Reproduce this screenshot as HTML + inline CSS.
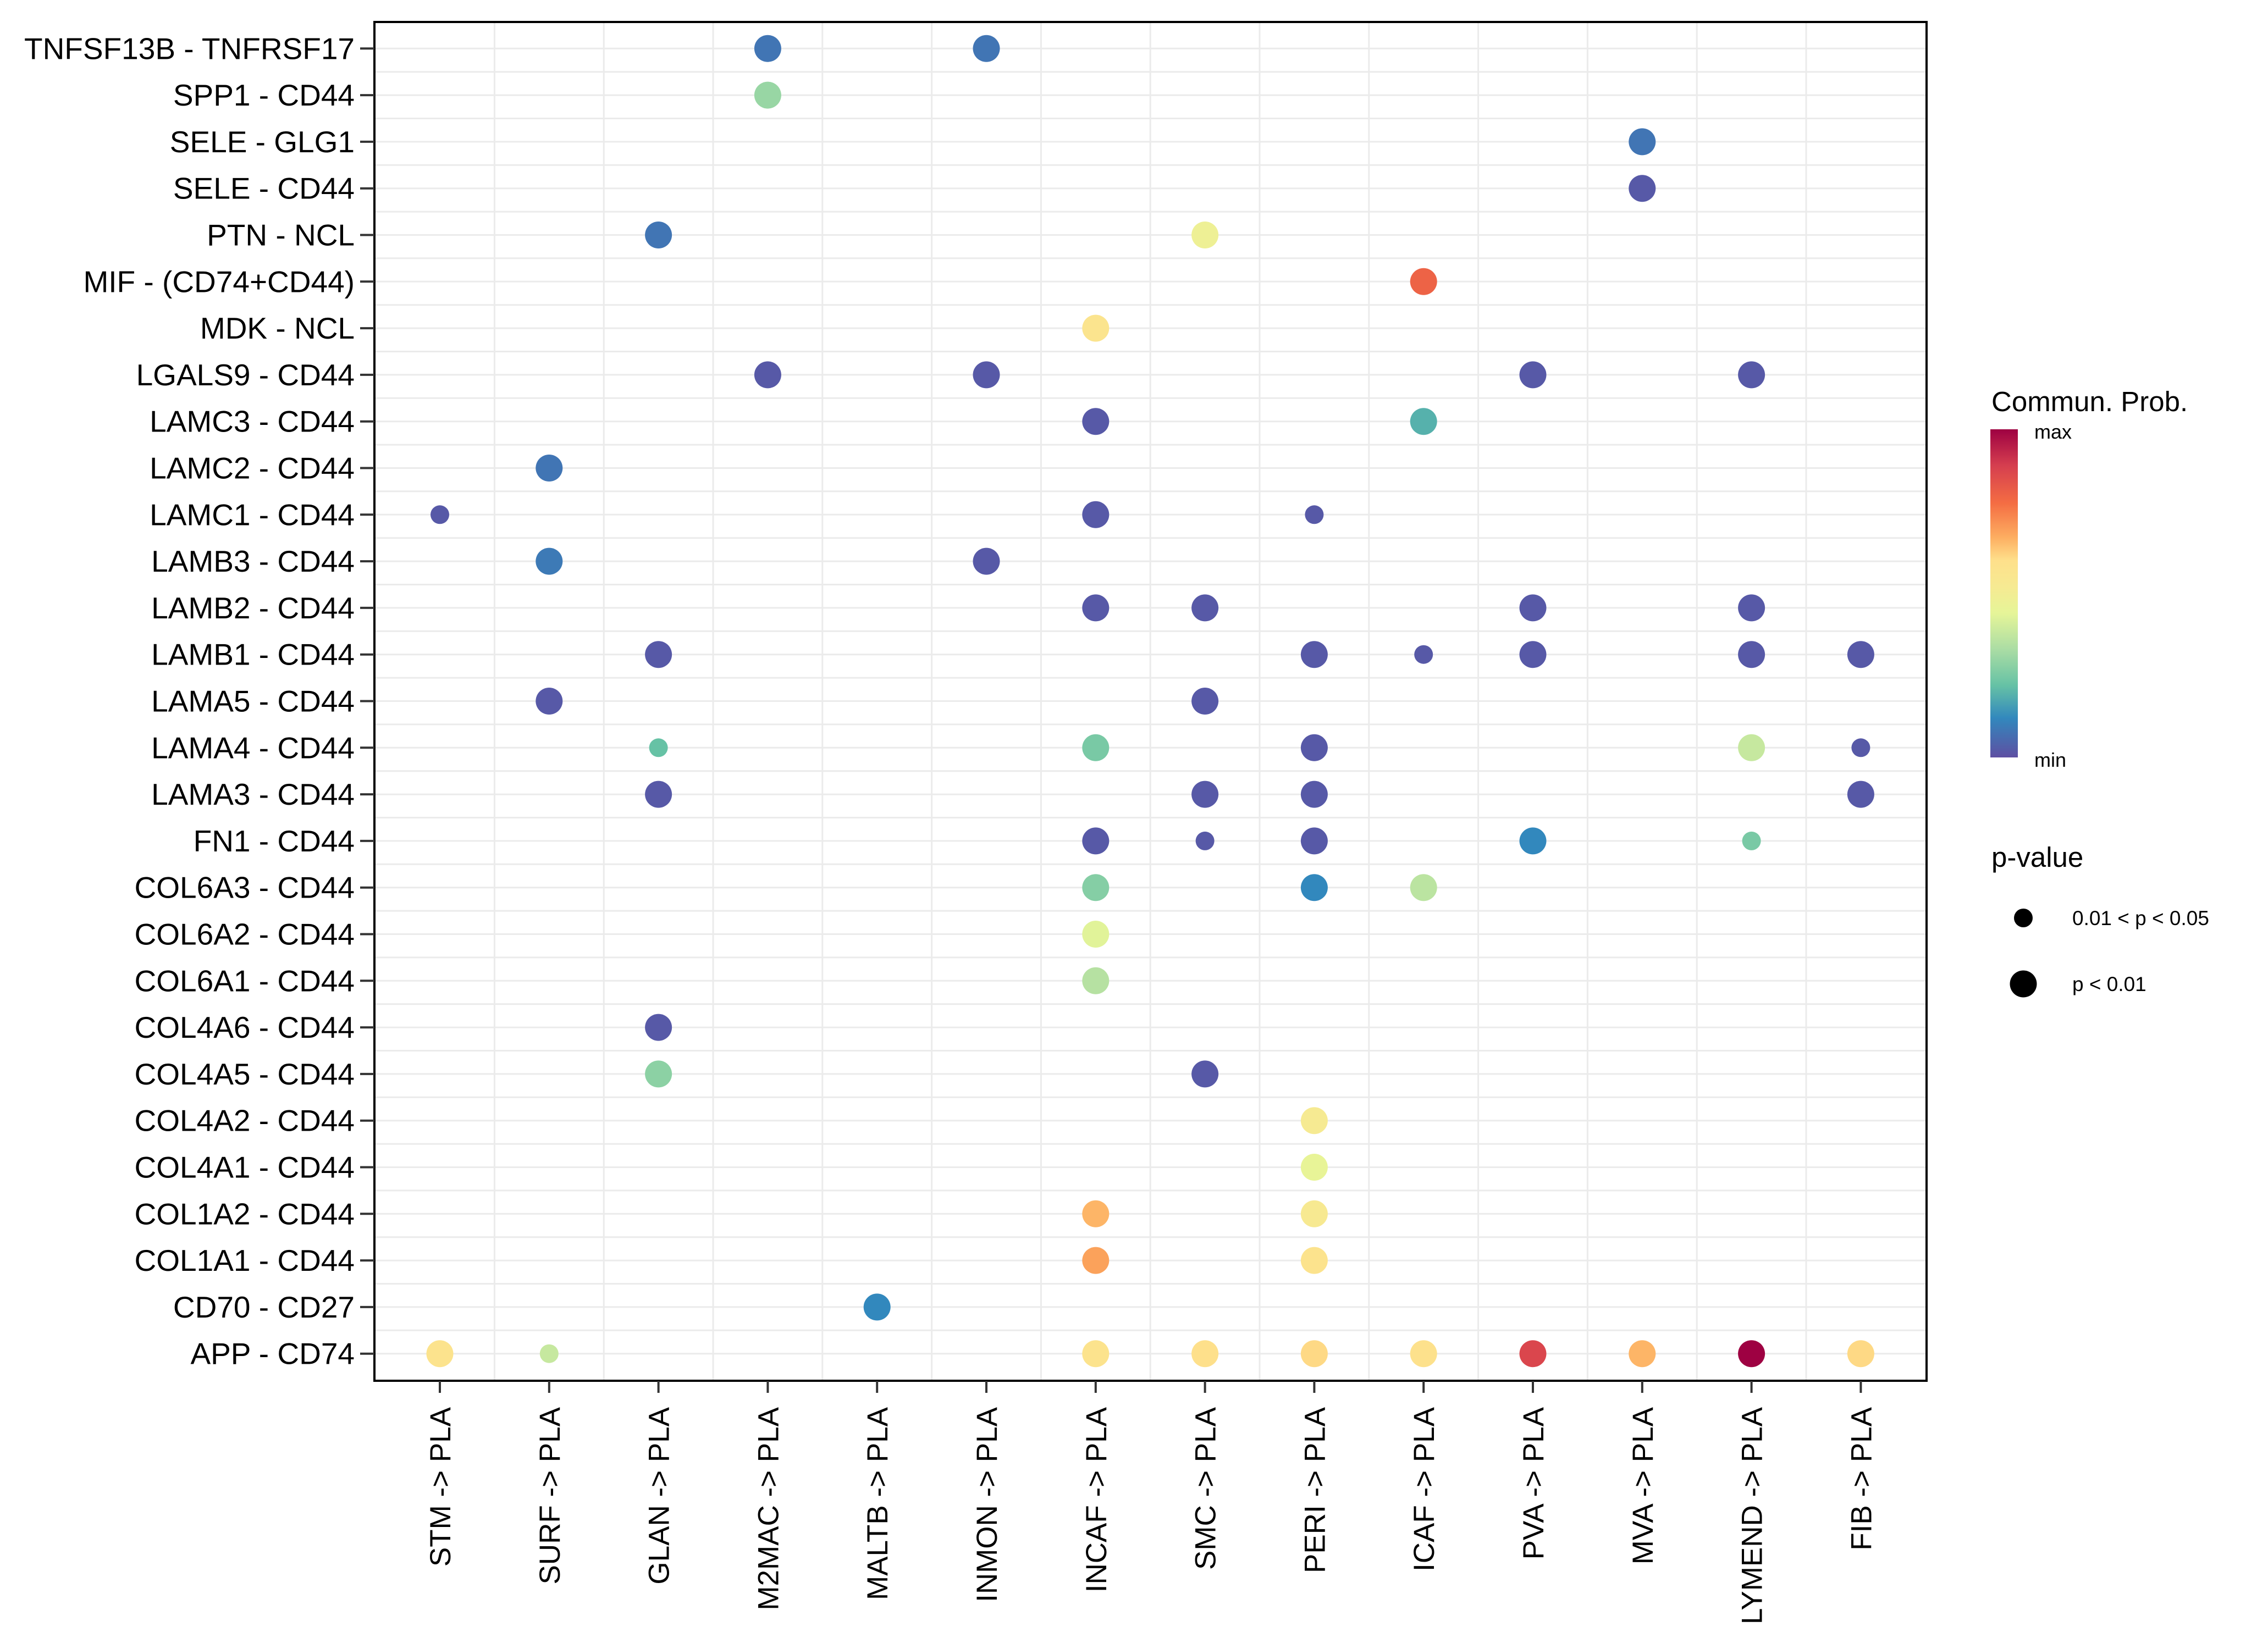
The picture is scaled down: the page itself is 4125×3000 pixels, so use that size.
<!DOCTYPE html>
<html><head><meta charset="utf-8">
<style>
html,body{margin:0;padding:0;background:#fff;}
svg{display:block;font-family:"Liberation Sans",Arial,sans-serif;}
</style></head>
<body>
<svg id="chart" width="4125" height="3000" viewBox="0 0 4125 3000" xmlns="http://www.w3.org/2000/svg">
  <rect x="0" y="0" width="4125" height="3000" fill="#fff"/>
  <g id="grid"></g>
  <g id="points"></g>
  <rect x="681" y="40" width="2823" height="2472" fill="none" stroke="#000" stroke-width="4"/>
  <g id="yaxis"></g>
  <g id="xaxis"></g>
  <g>
    <text x="3622" y="748" font-size="51">Commun. Prob.</text>
    <defs>
      <linearGradient id="spec" x1="0" y1="1" x2="0" y2="0">
        <stop offset="0" stop-color="#5E4FA2"/><stop offset="0.12" stop-color="#3288BD"/>
        <stop offset="0.22" stop-color="#66C2A5"/><stop offset="0.33" stop-color="#ABDDA4"/>
        <stop offset="0.44" stop-color="#E6F598"/><stop offset="0.52" stop-color="#F6EA92"/>
        <stop offset="0.6" stop-color="#FEE08B"/><stop offset="0.67" stop-color="#FDAE61"/>
        <stop offset="0.775" stop-color="#F46D43"/><stop offset="0.89" stop-color="#D53E4F"/>
        <stop offset="1" stop-color="#9E0142"/>
      </linearGradient>
    </defs>
    <rect x="3620" y="781" width="50" height="597" fill="url(#spec)"/>
    <text x="3700" y="798" font-size="36">max</text>
    <text x="3700" y="1395" font-size="36">min</text>
  </g>
  <g>
    <text x="3622" y="1577" font-size="51">p-value</text>
    <circle cx="3680" cy="1670" r="17" fill="#000"/>
    <text x="3769" y="1683" font-size="37">0.01 &lt; p &lt; 0.05</text>
    <circle cx="3680" cy="1790" r="24.5" fill="#000"/>
    <text x="3769" y="1803" font-size="37">p &lt; 0.01</text>
  </g>
</svg>
<script>
const rows = ["TNFSF13B - TNFRSF17","SPP1 - CD44","SELE - GLG1","SELE - CD44","PTN - NCL","MIF - (CD74+CD44)","MDK - NCL","LGALS9 - CD44","LAMC3 - CD44","LAMC2 - CD44","LAMC1 - CD44","LAMB3 - CD44","LAMB2 - CD44","LAMB1 - CD44","LAMA5 - CD44","LAMA4 - CD44","LAMA3 - CD44","FN1 - CD44","COL6A3 - CD44","COL6A2 - CD44","COL6A1 - CD44","COL4A6 - CD44","COL4A5 - CD44","COL4A2 - CD44","COL4A1 - CD44","COL1A2 - CD44","COL1A1 - CD44","CD70 - CD27","APP - CD74"];
const cols = ["STM -> PLA","SURF -> PLA","GLAN -> PLA","M2MAC -> PLA","MALTB -> PLA","INMON -> PLA","INCAF -> PLA","SMC -> PLA","PERI -> PLA","ICAF -> PLA","PVA -> PLA","MVA -> PLA","LYMEND -> PLA","FIB -> PLA"];
// points: row index, col index
const ptRow = [0,0,1,2,3,4,4,5,6,7,7,7,7,8,8,9,10,10,10,11,11,12,12,12,12,13,13,13,13,13,13,14,14,15,15,15,15,15,16,16,16,16,17,17,17,17,17,18,18,18,19,20,21,22,22,23,24,25,25,26,26,27,28,28,28,28,28,28,28,28,28,28];
const ptCol = [3,5,3,11,11,2,7,9,6,3,5,10,12,6,9,1,0,6,8,1,5,6,7,10,12,2,8,9,10,12,13,1,7,2,6,8,12,13,2,7,8,13,6,7,8,10,12,6,8,9,6,6,2,2,7,8,8,6,8,6,8,4,0,1,6,7,8,9,10,11,12,13];
// communication probability (0=min,1=max)
const ptProb = [0.08,0.08,0.3,0.08,0.02,0.08,0.48,0.8,0.57,0.02,0.02,0.02,0.02,0.02,0.19,0.08,0.02,0.02,0.02,0.09,0.02,0.02,0.02,0.02,0.02,0.02,0.02,0.02,0.02,0.02,0.02,0.02,0.02,0.22,0.25,0.02,0.38,0.02,0.02,0.02,0.02,0.02,0.02,0.02,0.02,0.12,0.25,0.27,0.12,0.36,0.43,0.35,0.02,0.28,0.02,0.52,0.45,0.66,0.53,0.69,0.58,0.12,0.58,0.38,0.58,0.6,0.61,0.59,0.87,0.66,1.0,0.61];
// 1 = 0.01<p<0.05 (small), 0 = p<0.01 (large)
const ptSmall = [0,0,0,0,0,0,0,0,0,0,0,0,0,0,0,0,1,0,1,0,0,0,0,0,0,0,0,1,0,0,0,0,0,1,0,0,0,1,0,0,0,0,0,1,0,0,1,0,0,0,0,0,0,0,0,0,0,0,0,0,0,0,0,1,0,0,0,0,0,0,0,0];

const NS = "http://www.w3.org/2000/svg";
const L=681,T=40,R=3504,B=2512;
const xScale = i => 800 + i*198.8;
const yScale = i => 88.3 + i*84.8;
const stops=[[0,"#5E4FA2"],[0.12,"#3288BD"],[0.22,"#66C2A5"],[0.33,"#ABDDA4"],[0.44,"#E6F598"],[0.52,"#F6EA92"],[0.6,"#FEE08B"],[0.67,"#FDAE61"],[0.775,"#F46D43"],[0.89,"#D53E4F"],[1,"#9E0142"]];
function hex(h){return [1,3,5].map(i=>parseInt(h.substr(i,2),16));}
function color(v){
  for(let i=1;i<stops.length;i++){
    if(v<=stops[i][0]){
      const a=stops[i-1],b=stops[i],t=(v-a[0])/(b[0]-a[0]);
      const ca=hex(a[1]),cb=hex(b[1]);
      return "rgb("+ca.map((c,k)=>Math.round(c+(cb[k]-c)*t)).join(",")+")";
    }
  }
  return stops[stops.length-1][1];
}
function mk(tag,attrs,parent){const e=document.createElementNS(NS,tag);for(const k in attrs)e.setAttribute(k,attrs[k]);parent.appendChild(e);return e;}
const grid=document.getElementById('grid'),pts=document.getElementById('points'),ya=document.getElementById('yaxis'),xa=document.getElementById('xaxis');
for(let i=0;i<rows.length;i++){
  const y=yScale(i);
  const g=mk('line',{x1:L,x2:R,y1:y,y2:y,stroke:'#ebebeb','stroke-width':3},grid);
  
  
  if(i<rows.length-1){
    const m=mk('line',{x1:L,x2:R,y1:y+42.4,y2:y+42.4,stroke:'#ebebeb','stroke-width':3},grid);
    
    
  }
  const tk=mk('line',{x1:655,x2:L,y1:y,y2:y,stroke:'#333','stroke-width':4},ya);
  
  
  const t=mk('text',{x:645,y:y+19,'text-anchor':'end','font-size':55,fill:'#000'},ya);
  t.textContent=rows[i];
  
  
}
for(let j=0;j<cols.length;j++){
  const x=xScale(j);
  if(j<cols.length-1){
    const m=mk('line',{x1:x+99.4,x2:x+99.4,y1:T,y2:B,stroke:'#ebebeb','stroke-width':3},grid);
    
    
  }
  const tk=mk('line',{x1:x,x2:x,y1:B,y2:B+22,stroke:'#333','stroke-width':4},xa);
  
  
  const t=mk('text',{x:0,y:0,'text-anchor':'end','font-size':53,fill:'#000',transform:'translate('+(x+19)+','+(B+48)+') rotate(-90)'},xa);
  t.textContent=cols[j];
  
  
}
for(let k=0;k<ptRow.length;k++){
  const c=mk('circle',{cx:xScale(ptCol[k]),cy:yScale(ptRow[k]),r:ptSmall[k]?17:24.5,fill:color(ptProb[k])},pts);
  
  
}
</script>
</body></html>
